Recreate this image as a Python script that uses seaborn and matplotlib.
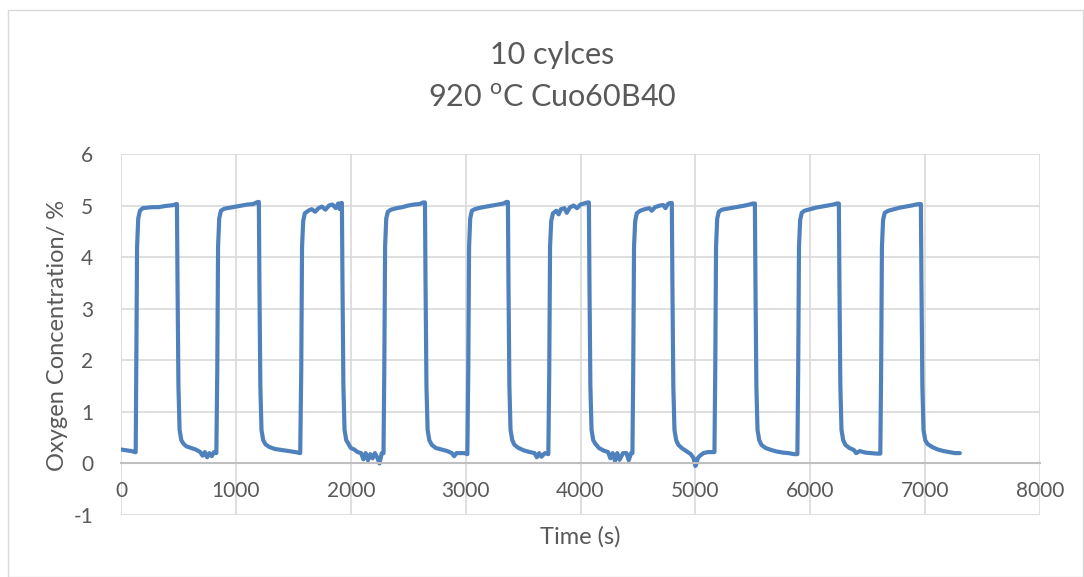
import matplotlib
matplotlib.use("Agg")
import matplotlib.pyplot as plt
from matplotlib.patches import Rectangle
import seaborn as sns
import pandas as pd

# Oxygen concentration trace over ten redox cycles (time in s, O2 in %)
time_s = [
    0, 30, 60, 90, 120, 128,
    # cycle 1
    133, 140, 150, 165, 190, 230, 280, 330, 380, 420, 460, 480, 487,
    492, 500, 510, 525, 545, 570, 610, 650, 690, 710, 730, 750, 770, 790, 810, 830,
    # cycle 2
    838, 845, 855, 870, 900, 950, 1000, 1050, 1100, 1150, 1180, 1195, 1200,
    1205, 1213, 1223, 1238, 1258, 1290, 1340, 1400, 1460, 1520, 1560,
    # cycle 3
    1569, 1576, 1586, 1600, 1630, 1660, 1690, 1720, 1750, 1780, 1810, 1840, 1870, 1890, 1905, 1915, 1923,
    1928, 1936, 1946, 1961, 1980, 2000, 2030, 2060, 2090, 2110, 2130, 2150, 2170, 2190, 2210, 2230, 2250, 2270, 2285,
    # cycle 4
    2292, 2299, 2309, 2323, 2350, 2400, 2450, 2500, 2550, 2600, 2630, 2646,
    2651, 2659, 2669, 2684, 2705, 2740, 2790, 2840, 2880, 2900, 2920, 2950, 2990, 3015,
    # cycle 5
    3023, 3030, 3040, 3054, 3080, 3130, 3180, 3230, 3280, 3330, 3355, 3368,
    3373, 3381, 3391, 3406, 3425, 3460, 3510, 3560, 3600, 3620, 3640, 3660, 3690, 3720,
    # cycle 6
    3728, 3735, 3745, 3760, 3790, 3810, 3830, 3860, 3880, 3910, 3940, 3970, 4000, 4030, 4060, 4073,
    4078, 4086, 4096, 4111, 4130, 4160, 4200, 4240, 4260, 4280, 4300, 4320, 4340, 4370, 4400, 4420, 4440, 4452,
    # cycle 7
    4459, 4466, 4476, 4490, 4520, 4560, 4600, 4620, 4650, 4690, 4720, 4740, 4760, 4780, 4795,
    4800, 4808, 4818, 4833, 4852, 4880, 4920, 4960, 4985, 5000, 5010, 5020, 5040, 5070, 5110, 5150, 5166,
    # cycle 8
    5173, 5180, 5190, 5204, 5230, 5280, 5330, 5380, 5430, 5470, 5500, 5518,
    5523, 5531, 5541, 5556, 5575, 5610, 5660, 5710, 5760, 5810, 5860, 5888,
    # cycle 9
    5895, 5902, 5912, 5926, 5950, 6000, 6050, 6100, 6150, 6200, 6230, 6249,
    6254, 6262, 6272, 6287, 6306, 6340, 6380, 6400, 6430, 6480, 6530, 6580, 6610,
    # cycle 10
    6617, 6624, 6634, 6648, 6680, 6730, 6780, 6830, 6880, 6920, 6950, 6963,
    6968, 6976, 6986, 7001, 7020, 7060, 7110, 7160, 7210, 7260, 7302,
]

oxygen_pct = [
    0.27, 0.26, 0.25, 0.24, 0.22, 0.22,
    # cycle 1
    1.8, 4.2, 4.75, 4.9, 4.95, 4.96, 4.97, 4.97, 4.99, 5.0, 5.01, 5.03, 5.03,
    3.5, 1.5, 0.65, 0.45, 0.38, 0.33, 0.3, 0.27, 0.22, 0.15, 0.22, 0.12, 0.2, 0.14, 0.22, 0.2,
    # cycle 2
    1.8, 4.2, 4.75, 4.9, 4.94, 4.96, 4.98, 5.0, 5.02, 5.03, 5.06, 5.07, 5.07,
    3.5, 1.5, 0.65, 0.45, 0.37, 0.32, 0.28, 0.26, 0.24, 0.22, 0.2,
    # cycle 3
    1.8, 4.2, 4.7, 4.85, 4.9, 4.93, 4.88, 4.95, 4.98, 4.92, 5.0, 5.02, 4.95, 5.04, 4.93, 5.05, 5.05,
    3.5, 1.5, 0.65, 0.45, 0.38, 0.3, 0.27, 0.22, 0.2, 0.08, 0.2, 0.06, 0.18, 0.1, 0.2, 0.12, 0.0, 0.2, 0.2,
    # cycle 4
    1.8, 4.2, 4.75, 4.88, 4.92, 4.95, 4.97, 5.0, 5.02, 5.03, 5.06, 5.06,
    3.5, 1.5, 0.65, 0.45, 0.36, 0.3, 0.27, 0.24, 0.2, 0.14, 0.2, 0.2, 0.2, 0.18,
    # cycle 5
    1.8, 4.2, 4.75, 4.9, 4.93, 4.96, 4.98, 5.0, 5.02, 5.04, 5.07, 5.07,
    3.5, 1.5, 0.65, 0.45, 0.36, 0.3, 0.25, 0.22, 0.2, 0.12, 0.2, 0.13, 0.2, 0.18,
    # cycle 6
    1.8, 4.2, 4.7, 4.85, 4.9, 4.83, 4.93, 4.95, 4.86, 4.97, 5.0, 4.95, 5.02, 5.04, 5.06, 5.06,
    3.5, 1.5, 0.65, 0.45, 0.38, 0.3, 0.25, 0.22, 0.1, 0.2, 0.05, 0.2, 0.07, 0.2, 0.2, 0.06, 0.2, 0.2,
    # cycle 7
    1.8, 4.2, 4.7, 4.85, 4.9, 4.93, 4.95, 4.9, 4.97, 5.0, 5.01, 4.95, 5.03, 5.05, 5.05,
    3.5, 1.5, 0.65, 0.45, 0.36, 0.3, 0.24, 0.18, 0.1, -0.05, 0.0, 0.1, 0.15, 0.2, 0.22, 0.22, 0.22,
    # cycle 8
    1.8, 4.2, 4.75, 4.88, 4.92, 4.94, 4.96, 4.98, 5.0, 5.02, 5.04, 5.04,
    3.5, 1.5, 0.65, 0.45, 0.36, 0.3, 0.26, 0.23, 0.21, 0.2, 0.18, 0.18,
    # cycle 9
    1.8, 4.2, 4.72, 4.86, 4.9, 4.93, 4.96, 4.98, 5.0, 5.02, 5.04, 5.04,
    3.5, 1.5, 0.65, 0.45, 0.36, 0.3, 0.26, 0.2, 0.24, 0.21, 0.2, 0.19, 0.19,
    # cycle 10
    1.8, 4.2, 4.72, 4.86, 4.9, 4.93, 4.96, 4.98, 5.0, 5.02, 5.03, 5.03,
    3.5, 1.5, 0.65, 0.45, 0.38, 0.32, 0.27, 0.24, 0.22, 0.2, 0.2,
]

x_ticks = [0, 1000, 2000, 3000, 4000, 5000, 6000, 7000, 8000]
y_ticks = [-1, 0, 1, 2, 3, 4, 5, 6]

title_line1 = "10 cylces"
title_line2 = "920 $^{\\mathrm{o}}$C Cuo60B40"
x_label = "Time (s)"
y_label = "Oxygen Concentration/ %"

TEXT = "#595959"
GRID = "#d9d9d9"
AXIS = "#bfbfbf"
LINE = "#4f81bd"

sns.set_theme(style="white")
plt.rcParams["font.family"] = ["Lato", "DejaVu Sans"]
plt.rcParams["mathtext.fontset"] = "custom"
plt.rcParams["mathtext.rm"] = "Lato"

df = pd.DataFrame({"time": time_s, "o2": oxygen_pct})

fig = plt.figure(figsize=(10.84, 5.77), dpi=100)
fig.patch.set_facecolor("white")
fig.patches.append(Rectangle((8 / 1084, 0.5 / 577), 1075 / 1084, 567 / 577,
                             transform=fig.transFigure, fill=False,
                             edgecolor="#d9d9d9", linewidth=1.0))

ax = fig.add_axes([121 / 1084, 1 - 515 / 577, 919 / 1084, 361 / 577])

sns.lineplot(data=df, x="time", y="o2", ax=ax, color=LINE, linewidth=3.0,
             sort=False, estimator=None)

ax.set_xlim(0, 8000)
ax.set_ylim(-1, 6)
ax.set_xticks(x_ticks)
ax.set_yticks(y_ticks)
ax.set_xticklabels([str(v) for v in x_ticks])
ax.set_yticklabels([str(v) for v in y_ticks])

ax.grid(True, color=GRID, linewidth=1.2)
ax.set_axisbelow(True)
for side in ["top", "right", "left"]:
    ax.spines[side].set_visible(False)
ax.spines["bottom"].set_position(("data", 0))
ax.spines["bottom"].set_color(AXIS)
ax.spines["bottom"].set_linewidth(1.5)

ax.tick_params(axis="both", length=0, labelsize=15, labelcolor=TEXT)
ax.tick_params(axis="x", pad=13)
ax.tick_params(axis="y", pad=20)

ax.set_xlabel("")
ax.set_ylabel("")
fig.text(580 / 1084, 1 - 537 / 577, x_label, ha="center", va="center",
         fontsize=17, color=TEXT)
fig.text(57 / 1084, 1 - 335 / 577, y_label, ha="center", va="center",
         rotation=90, fontsize=17, color=TEXT)
fig.text(552 / 1084, 1 - 55 / 577, title_line1, ha="center", va="center",
         fontsize=22, color=TEXT)
fig.text(552 / 1084, 1 - 98 / 577, title_line2, ha="center", va="center",
         fontsize=22, color=TEXT)

fig.savefig("out.png", dpi=100)
